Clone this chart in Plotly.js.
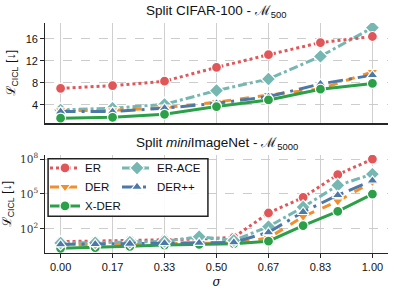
<!DOCTYPE html>
<html>
<head>
<meta charset="utf-8">
<script src="https://cdn.plot.ly/plotly-3.0.1.min.js"></script>
<style>html,body{margin:0;padding:0;background:#fff;}#chart{width:395px;height:293px;}</style>
</head>
<body>
<div id="chart"></div>
<script>
// ---- data ----
const sigmaTop = [0, 0.1667, 0.3333, 0.5, 0.6667, 0.8333, 1.0];
const sigmaBottom = [0, 0.1111, 0.2222, 0.3333, 0.4444, 0.5556, 0.6667, 0.7778, 0.8889, 1.0];
const tickVals = [0, 0.1667, 0.3333, 0.5, 0.6667, 0.8333, 1.0];
const tickLabels = ['0.00', '0.17', '0.33', '0.50', '0.67', '0.83', '1.00'];

// Split CIFAR-100 (M_500)
const cifarER     = [7.0, 7.5, 8.3, 10.8, 13.1, 15.3, 16.4];
const cifarERACE  = [3.1, 3.4, 4.1, 6.6, 8.7, 12.8, 18.0];
const cifarDER    = [3.0, 3.0, 3.5, 4.5, 5.8, 6.9, 10.0];
const cifarDERpp  = [2.8, 2.8, 3.4, 4.3, 5.5, 7.8, 9.4];
const cifarXDER   = [1.6, 1.75, 2.3, 3.7, 4.9, 6.85, 7.9];

// Split miniImageNet (M_5000)
const mini_ER     = [7.8, 8.7, 10.5, 12, 13, 18.6, 2300, 50000, 4.6e6, 1.0e8];
const mini_ERACE  = [6.0, 6.3, 7.2, 8.3, 21, 10, 155, 7400, 5.5e5, 5.1e6];
const mini_DER    = [4.2, 4.4, 4.6, 5.0, 5.5, 6.0, 16.6, 1120, 23400, 1.1e6];
const mini_DERpp  = [4.6, 4.8, 5.2, 5.8, 6.3, 6.9, 50, 2800, 79000, 1.4e6];
const mini_XDER   = [2.1, 2.4, 3.1, 4.0, 4.6, 5.2, 8.7, 190, 3200, 98000];

const logTickVals = [1e2, 1e5, 1e8];
const logTickText = ['10<sup>2</sup>', '10<sup>5</sup>', '10<sup>8</sup>'];

// ---- styles ----
const series = {
  'ER':     {color: '#e15759', dash: 'dot',         symbol: 'circle',        size: 10},
  'DER':    {color: '#f28e2b', dash: 'dash',        symbol: 'triangle-down', size: 10},
  'X-DER':  {color: '#2ca048', dash: 'solid',       symbol: 'circle',        size: 10},
  'ER-ACE': {color: '#76b7b2', dash: 'dashdot',     symbol: 'diamond',       size: 11},
  'DER++':  {color: '#4e79a7', dash: 'longdashdot', symbol: 'triangle-up',   size: 10}
};

function tr(name, x, y, xa, ya, showlegend, legend) {
  const s = series[name];
  const t = {
    type: 'scatter', mode: 'lines+markers', name: name, x: x, y: y,
    xaxis: xa, yaxis: ya, showlegend: showlegend,
    line: {color: s.color, width: 3, dash: s.dash},
    marker: {color: s.color, symbol: s.symbol, size: s.size, line: {color: '#ffffff', width: 1.2}}
  };
  if (legend) t.legend = legend;
  return t;
}

const data = [
  tr('ER-ACE', sigmaTop, cifarERACE, 'x', 'y', false),
  tr('DER', sigmaTop, cifarDER, 'x', 'y', false),
  tr('DER++', sigmaTop, cifarDERpp, 'x', 'y', false),
  tr('X-DER', sigmaTop, cifarXDER, 'x', 'y', false),
  tr('ER', sigmaTop, cifarER, 'x', 'y', false),
  tr('ER', sigmaBottom, mini_ER, 'x2', 'y2', true, 'legend'),
  tr('DER', sigmaBottom, mini_DER, 'x2', 'y2', true, 'legend'),
  tr('X-DER', sigmaBottom, mini_XDER, 'x2', 'y2', true, 'legend'),
  tr('ER-ACE', sigmaBottom, mini_ERACE, 'x2', 'y2', true, 'legend2'),
  tr('DER++', sigmaBottom, mini_DERpp, 'x2', 'y2', true, 'legend2')
];

const axisLine = '#262626';
const baseX = {
  range: [-0.05, 1.05], tickmode: 'array', tickvals: tickVals,
  showgrid: true, gridcolor: '#cfcfcf', gridwidth: 1, zeroline: false,
  showline: true, linecolor: axisLine, linewidth: 1.3, fixedrange: true
};
const baseY = {
  showgrid: true, gridcolor: '#cccccc', gridwidth: 1, griddash: 'dash', zeroline: false,
  showline: true, linecolor: axisLine, linewidth: 1.3,
  ticks: 'outside', ticklen: 3.5, tickcolor: axisLine, tickwidth: 1,
  tickfont: {size: 11, color: '#111'}, fixedrange: true,
  title: {text: 'ℒ<sub>CICL</sub> [↓]', font: {size: 12.5, color: '#111'}, standoff: 7}
};

const layout = {
  width: 395, height: 293,
  margin: {l: 45, r: 7, t: 23, b: 40},
  paper_bgcolor: '#ffffff', plot_bgcolor: '#ffffff',
  font: {family: 'Liberation Sans, Arial, sans-serif', size: 11, color: '#111'},
  xaxis: Object.assign({}, baseX, {domain: [0, 1], anchor: 'y', showticklabels: false, ticks: ''}),
  yaxis: Object.assign({}, baseY, {domain: [0.564, 1], anchor: 'x', range: [0.67, 18.85],
    tickvals: [4, 8, 12, 16], tickmode: 'array'}),
  xaxis2: Object.assign({}, baseX, {domain: [0, 1], anchor: 'y2', ticktext: tickLabels,
    ticks: 'outside', ticklen: 3.5, tickcolor: axisLine,
    tickfont: {size: 11, color: '#111'},
    title: {text: '<i>σ</i>', font: {family: 'DejaVu Serif, serif', size: 12, color: '#111'}, standoff: 5}}),
  yaxis2: Object.assign({}, baseY, {domain: [0, 0.426], anchor: 'x2', type: 'log', range: [-0.08, 8.35],
    tickmode: 'array', tickvals: logTickVals, ticktext: logTickText,
    tickfont: {family: 'DejaVu Serif, serif', size: 10.5, color: '#333'}}),
  annotations: [
    {xref: 'x domain', yref: 'y domain', x: 0.5, y: 1, yanchor: 'bottom', showarrow: false, yshift: 1,
     text: 'Split CIFAR-100 - ℳ<sub>500</sub>', font: {size: 13.5, color: '#111'}},
    {xref: 'x2 domain', yref: 'y2 domain', x: 0.5, y: 1, yanchor: 'bottom', showarrow: false, yshift: 1,
     text: 'Split <i>mini</i>ImageNet - ℳ<sub>5000</sub>', font: {size: 13.5, color: '#111'}}
  ],
  shapes: [
    {type: 'rect', xref: 'x2 domain', yref: 'y2 domain', x0: 0.009, x1: 0.475, y0: 0.375, y1: 0.962,
     fillcolor: 'rgba(255,255,255,0.9)', line: {color: '#222', width: 1.5}, layer: 'above'}
  ],
  legend: {x: 0.0, y: 0.433, xanchor: 'left', yanchor: 'top', bgcolor: 'rgba(0,0,0,0)',
    borderwidth: 0, font: {size: 11.5, color: '#111'}, tracegroupgap: 0},
  legend2: {x: 0.21, y: 0.433, xanchor: 'left', yanchor: 'top', bgcolor: 'rgba(0,0,0,0)',
    borderwidth: 0, font: {size: 11.5, color: '#111'}, tracegroupgap: 0},
  showlegend: true
};

Plotly.newPlot('chart', data, layout, {displayModeBar: false, staticPlot: true});
</script>
</body>
</html>
